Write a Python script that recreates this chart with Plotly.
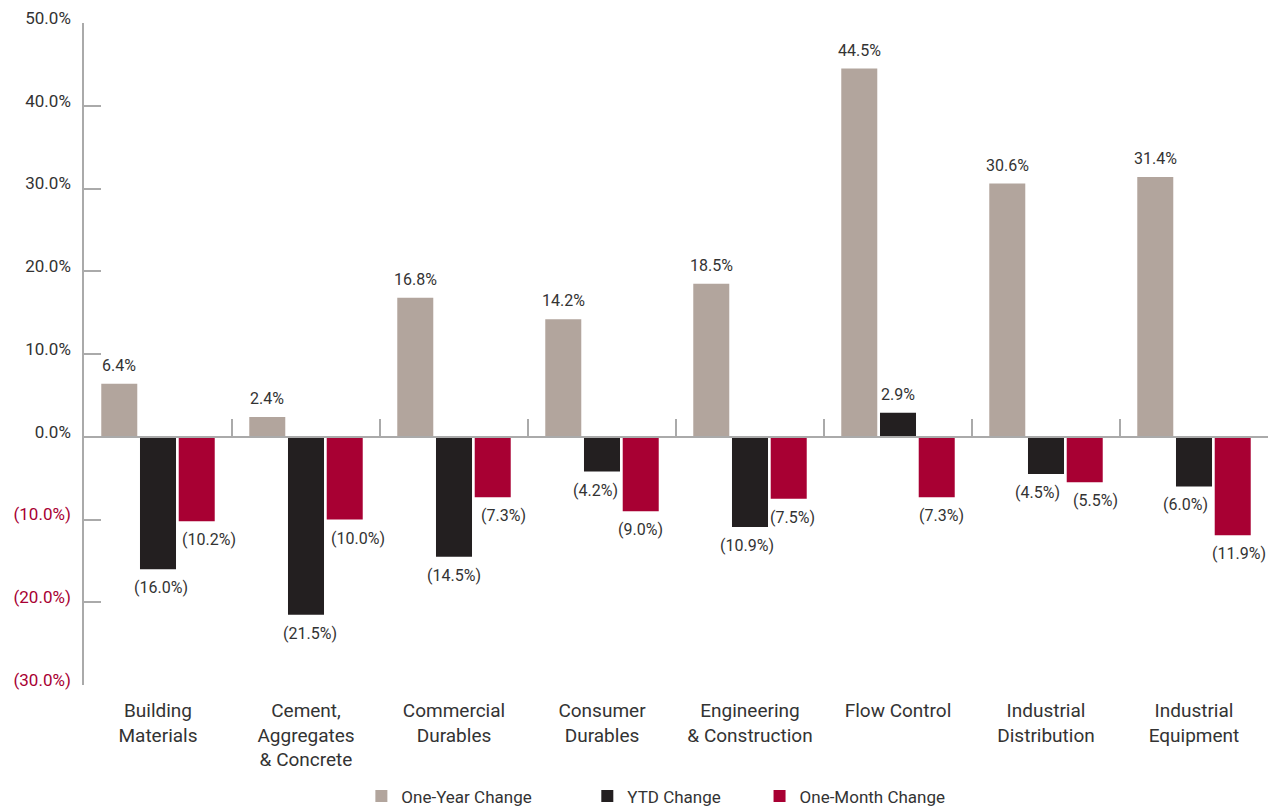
import plotly.graph_objects as go

categories = ["Building<br>Materials", "Cement,<br>Aggregates<br>& Concrete", "Commercial<br>Durables",
              "Consumer<br>Durables", "Engineering<br>& Construction", "Flow Control",
              "Industrial<br>Distribution", "Industrial<br>Equipment"]
one_year = [6.4, 2.4, 16.8, 14.2, 18.5, 44.5, 30.6, 31.4]
ytd = [-16.0, -21.5, -14.5, -4.2, -10.9, 2.9, -4.5, -6.0]
one_month = [-10.2, -10.0, -7.3, -9.0, -7.5, -7.3, -5.5, -11.9]
series_names = ["One-Year Change", "YTD Change", "One-Month Change"]
y_ticks = [50, 40, 30, 20, 10, 0, -10, -20, -30]

FONT = "Roboto, sans-serif"
colors = ["#b2a59d", "#231f20", "#a80033"]
TXT = "#333333"
NEG = "#a80033"

W, H = 1279, 811
ML, MR, MT, MB = 84, 11, 23, 126
BARGAP, GROUPGAP = 0.215, 0.07

# style: horizontal pixel nudges of value labels (as in the original layout)
label_nudge = [
    [0, 0, 0, 0, 0, 0, 0, 0],
    [3, 4, 0, -7, -3, 0, -9, -9],
    [12, 13, 11, 0, 4, 5, 11, 6],
]


def fmt(v):
    return f"({abs(v):.1f}%)" if v < 0 else f"{v:.1f}%"


def tick_text(v):
    if v < 0:
        return f'<span style="color:{NEG}">({abs(v):.1f}%)</span>'
    return f"{v:.1f}%"


all_series = [one_year, ytd, one_month]
legend_pad = [12, 8, 0]

fig = go.Figure()
for name, vals, col, pad in zip(series_names, all_series, colors, legend_pad):
    fig.add_trace(go.Bar(
        x=categories, y=vals, name=name + "\u00a0" * pad,
        marker=dict(color=col, line=dict(width=0)),
        hoverinfo="skip",
    ))

# value labels placed through the axes, nudged to each bar of the group
slot = (W - ML - MR) / len(categories) * (1 - BARGAP) / len(all_series)
annotations = []
for i, vals in enumerate(all_series):
    xs = (i - (len(all_series) - 1) / 2) * slot
    for c, v, nd in zip(categories, vals, label_nudge[i]):
        annotations.append(dict(
            x=c, y=v, xref="x", yref="y", text=fmt(v), showarrow=False,
            xshift=xs + nd, yshift=7 if v >= 0 else -7,
            yanchor="bottom" if v >= 0 else "top",
            font=dict(family=FONT, size=16, color=TXT),
        ))

# invisible trace on overlaid axis to draw zero line with category separators
fig.add_trace(go.Scatter(x=categories, y=[0] * len(categories), xaxis="x2", yaxis="y",
                         mode="markers", marker=dict(opacity=0), showlegend=False,
                         hoverinfo="skip"))

fig.update_layout(
    width=W, height=H,
    margin=dict(l=ML, r=MR, t=MT, b=MB, autoexpand=False),
    plot_bgcolor="white", paper_bgcolor="white",
    barmode="group", bargap=BARGAP, bargroupgap=GROUPGAP,
    font=dict(family=FONT, color=TXT),
    annotations=annotations,
    showlegend=True,
    legend=dict(orientation="h", x=0.5128, xanchor="center", y=0.018, yanchor="middle",
                yref="container", xref="container",
                font=dict(family=FONT, size=17, color=TXT), itemwidth=30,
                traceorder="normal"),
    xaxis=dict(showline=False, ticks="", showgrid=False, zeroline=False, automargin=False,
               tickfont=dict(family=FONT, size=19, color=TXT), ticklabelstandoff=12),
    xaxis2=dict(overlaying="x", matches="x", anchor="free", position=30 / 80,
                showline=True, linecolor="#aaaaaa", linewidth=1.5, automargin=False,
                ticks="inside", tickson="boundaries", ticklen=17, tickcolor="#aaaaaa",
                tickwidth=1.5, showticklabels=False, showgrid=False, zeroline=False),
    yaxis=dict(range=[-30, 50], tickvals=y_ticks, ticktext=[tick_text(v) for v in y_ticks],
               showline=True, linecolor="#aaaaaa", linewidth=1.5, automargin=False,
               ticks="inside", ticklen=17, tickcolor="#aaaaaa", tickwidth=1.5,
               showgrid=False, zeroline=False,
               tickfont=dict(family=FONT, size=17, color=TXT), ticklabelstandoff=8,
               ticklabelshift=-5),
)

fig.write_html("out.html", config={"displayModeBar": False},
               post_script="document.body.style.margin='0';")
